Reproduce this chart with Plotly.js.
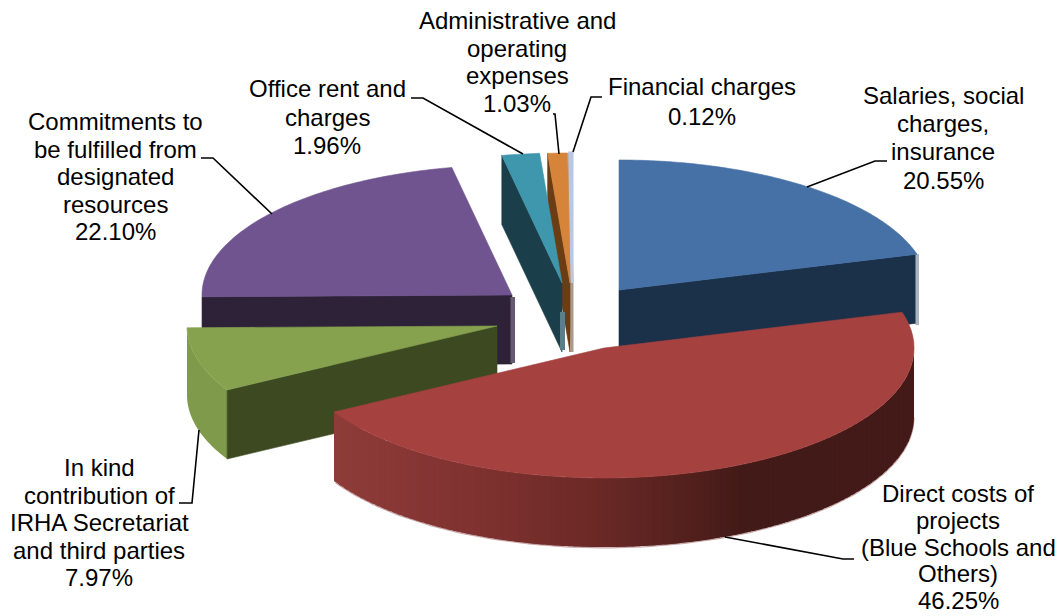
<!DOCTYPE html>
<html>
<head>
<meta charset="utf-8">
<script src="https://cdn.plot.ly/plotly-3.0.1.min.js"></script>
<style>html,body{margin:0;padding:0;background:#fff}#c{width:1062px;height:616px}</style>
</head>
<body>
<div id="c"></div>
<script>
// Data (clockwise from 12 o'clock)
const categories = ["Salaries, social charges, insurance", "Direct costs of projects (Blue Schools and Others)",
  "In kind contribution of IRHA Secretariat and third parties", "Commitments to be fulfilled from designated resources",
  "Office rent and charges", "Administrative and operating expenses", "Financial charges"];
const percents = [20.55, 46.25, 7.97, 22.10, 1.96, 1.03, 0.12];

// Multi-line label text
const labelLines = [
  ["Salaries, social", "charges,", "insurance", "20.55%"],
  ["Direct costs of", "projects", "(Blue Schools and", "Others)", "46.25%"],
  ["In kind", "contribution of", "IRHA Secretariat", "and third parties", "7.97%"],
  ["Commitments to", "be fulfilled from", "designated", "resources", "22.10%"],
  ["Office rent and", "charges", "1.96%"],
  ["Administrative and", "operating", "expenses", "1.03%"],
  ["Financial charges", "0.12%"]
];

// Look of the exploded 3D pie
const centerX = [619, 604, 497, 512, 562, 570, 572];
const centerY = [290, 348, 326, 295, 283, 283, 283];
const radiusX = 310, radiusY = 130, depth = 69;
const topColors = ["#4571a6", "#a54240", "#87a24f", "#6f5490", "#3f97ae", "#d7843b", "#b9c7e2"];
const cutColors = ["#1b3049", "#a54240", "#3d4a21", "#2e2238", "#1b3f4a", "#6b3d14", "#a99a8c"];
const cutEdge = [1, null, 0, 0, 0, 0, 0];
const drawOrder = [3, 6, 5, 4, 0, 2, 1];
const labelX = [943, 958, 99, 115, 327, 517, 702];
const labelBaseY = [105, 503, 477, 131, 98, 30, 96];
const linePitch = [28.2, 26.8, 27.5, 27.5, 28.5, 27.7, 30];
const leadX = [[807,875,887],[725,843,854],[199,192,179],[272,213,201],[523,423,411],[559,555,553],[573,591,602]];
const leadY = [[187,161,161],[537,559,559],[430,503,503],[214,158,158],[154,98,98],[154,114,114],[152,97,97]];
const redStops = [[333,[143,60,57]],[500,[124,48,46]],[600,[106,41,38]],[700,[79,31,28]],[745,[66,26,24]],[914,[67,26,23]]];

const traces = [];
function poly(xs, ys, color, lw) {
  traces.push({type:'scatter', mode:'lines', x:xs.concat(xs[0]), y:ys.concat(ys[0]), fill:'toself',
    fillcolor:color, line:{color:color, width:lw===undefined?0.6:lw, simplify:false}, hoverinfo:'skip', showlegend:false});
}
const total = percents.reduce((a,b)=>a+b,0);
const angles = [0];
percents.forEach(v => angles.push(angles[angles.length-1] + v/total*360));
const rad = d => d*Math.PI/180;
const px = (i,t) => centerX[i] + radiusX*Math.sin(rad(t));
const py = (i,t) => centerY[i] - radiusY*Math.cos(rad(t));
function sideColor(i, x) {
  if (i === 2) return '#7e9a4a';
  if (i !== 1) return cutColors[i];
  for (let k=0;k<redStops.length-1;k++) {
    const a=redStops[k], b=redStops[k+1];
    if (x<=b[0]) { const f=Math.max(0,(x-a[0])/(b[0]-a[0]));
      return 'rgb('+a[1].map((c,j)=>Math.round(c+(b[1][j]-c)*f)).join(',')+')'; }
  }
  return 'rgb(67,26,23)';
}
function rim(x, y0, y1, w, color){ poly([x,x+w,x+w,x],[y0,y0,y1,y1],color,0); }
function wall(i, t0, t1, color) {
  const n = Math.max(1, Math.ceil((t1-t0)/0.5));
  const up = [], low = [];
  for (let k=0;k<=n;k++){ const t=t0+(t1-t0)*k/n; up.push([px(i,t),py(i,t)]); low.unshift([px(i,t),py(i,t)+depth]); }
  const all = up.concat(low);
  traces.push({type:'scatter', mode:'lines', x:all.map(p=>p[0]).concat(all[0][0]), y:all.map(p=>p[1]).concat(all[0][1]),
    fill:'toself', fillcolor:color, line:{width:0, color:color, simplify:false}, hoverinfo:'skip', showlegend:false});
}

drawOrder.forEach(i => {
  const a0 = angles[i], a1 = angles[i+1];
  const s0 = Math.max(a0,90), s1 = Math.min(a1,270);
  if (s1 > s0) {
    if (i === 1) {
      // Pale fringe under the front wall
      const fx=[], fy=[];
      for (let t=s0;t<=s1;t+=1){ fx.push(px(i,t)); fy.push(py(i,t)+depth+0.8); }
      traces.push({type:'scatter',mode:'lines',x:fx,y:fy,line:{color:'rgba(150,95,95,0.55)',width:1.2},hoverinfo:'skip',showlegend:false});
      // Shaded bands: right-hand dark block first, then narrow bands leftward
      let t = s0;
      const bandW = 5;
      while (t < s1) {
        const xStart = px(i,t);
        let e = t;
        while (e < s1 && xStart - px(i,e) < bandW) e += 0.25;
        // Each band runs on under the next so no seam shows
        wall(i, t, Math.min(s1, e + 1), sideColor(i, xStart - bandW/2));
        t = e;
      }
    } else {
      wall(i, s0, s1, sideColor(i, px(i,s0)));
    }
  }
  // Cut wall
  if (cutEdge[i] !== null) {
    const t = cutEdge[i] ? a1 : a0;
    const cx=centerX[i], cy=centerY[i];
    poly([cx,px(i,t),px(i,t),cx],[cy,py(i,t),py(i,t)+depth,cy+depth],cutColors[i], i===6?3:0.6);
  }
  // Pale slivers at wall ends
  if (i===0) rim(px(0,a1)-1.5,py(0,a1),py(0,a1)+depth+2,3.5,'#a9b6c2');
  if (i===3) rim(centerX[3]-1.5,centerY[3]+2,centerY[3]+depth-1,4.5,'#675a70');
  if (i===4) rim(centerX[4]-2,centerY[4]+29,centerY[4]+depth-2,5,'#5b7f88');
  // Top face
  const xs=[centerX[i]], ys=[centerY[i]];
  const m = Math.max(2, Math.ceil((a1-a0)/1));
  for (let k=0;k<=m;k++){ const t=a0+(a1-a0)*k/m; xs.push(px(i,t)); ys.push(py(i,t)); }
  poly(xs,ys,topColors[i], i===6?3:0.6);
});

// Leader lines
leadX.forEach((xs,i)=>traces.push({type:'scatter',mode:'lines',x:xs,y:leadY[i],
  line:{color:'#000',width:1.6},hoverinfo:'skip',showlegend:false}));

// Labels, one annotation per line so the tight line pitch holds
const annotations = [];
labelLines.forEach((lines,i)=>lines.forEach((txt,k)=>annotations.push({
  text:txt, x:labelX[i], y:labelBaseY[i]+k*linePitch[i], xref:'x', yref:'y',
  xanchor:'center', yanchor:'bottom', yshift:-5, showarrow:false, borderpad:0,
  font:{family:'"Liberation Sans", Arial, sans-serif', size:24, color:'#000'}
})));

const layout = {
  width:1062, height:616, margin:{l:0,r:0,t:0,b:0}, autosize:false,
  paper_bgcolor:'#fff', plot_bgcolor:'#fff', showlegend:false,
  xaxis:{range:[0,1062],visible:false,fixedrange:true},
  yaxis:{range:[616,0],visible:false,fixedrange:true},
  annotations
};
Plotly.newPlot('c', traces, layout, {displayModeBar:false, staticPlot:true});
</script>
</body>
</html>
